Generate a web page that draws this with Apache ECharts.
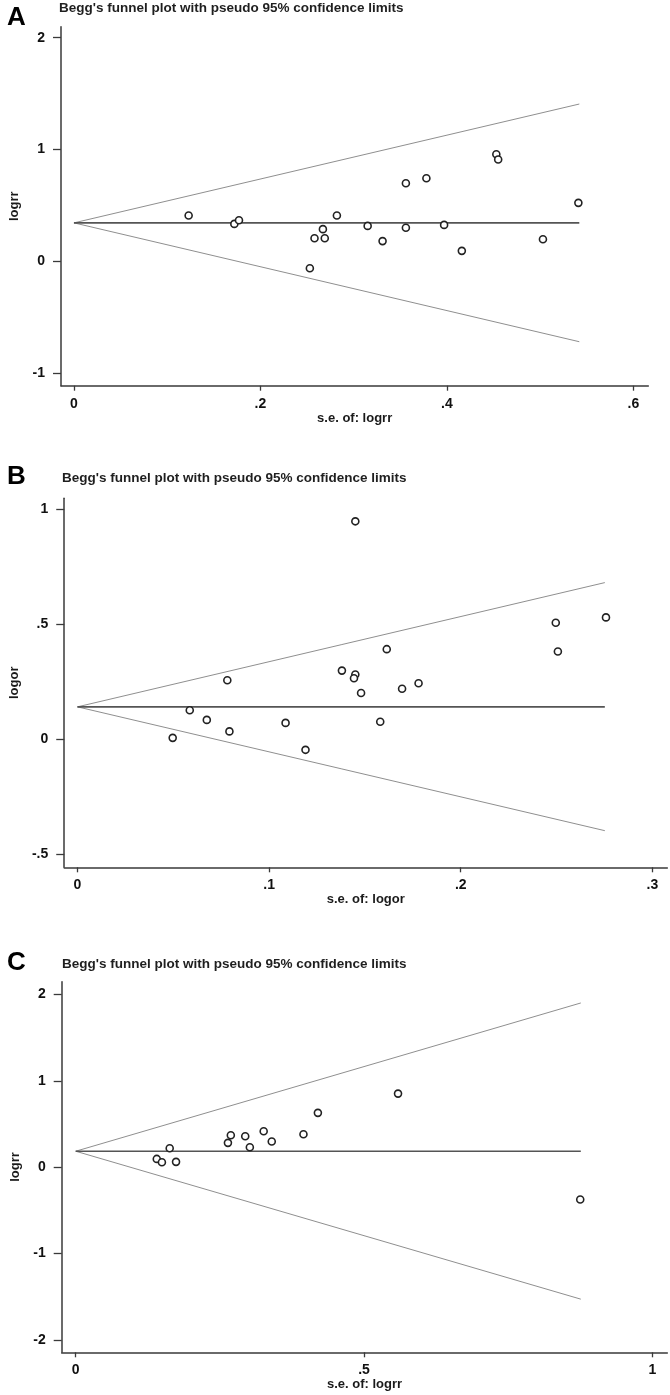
<!DOCTYPE html>
<html>
<head>
<meta charset="utf-8">
<script src="https://cdn.jsdelivr.net/npm/echarts@6/dist/echarts.min.js"></script>
<style>
html,body{margin:0;padding:0;background:#fff;}
#chart{width:670px;height:1395px;}
</style>
</head>
<body>
<div id="chart"></div>
<script>
// ---- Data ----
const panelLetters = ['A', 'B', 'C'];
const panelTitle = "Begg's funnel plot with pseudo 95% confidence limits";
const xNames = ['s.e. of: logrr', 's.e. of: logor', 's.e. of: logrr'];
const yNames = ['logrr', 'logor', 'logrr'];

// Panel A
const seA = [0.123, 0.172, 0.177, 0.253, 0.258, 0.267, 0.269, 0.282, 0.315, 0.331, 0.356, 0.356, 0.378, 0.397, 0.416, 0.453, 0.455, 0.503, 0.541];
const effA = [0.411, 0.336, 0.369, -0.060, 0.208, 0.289, 0.208, 0.411, 0.318, 0.182, 0.699, 0.301, 0.744, 0.327, 0.095, 0.958, 0.911, 0.199, 0.524];
const pooledA = 0.345;
const seMaxA = 0.542;
const upperEndA = 1.407;
const lowerEndA = -0.717;
const xTicksA = [0, 0.2, 0.4, 0.6];
const yTicksA = [-1, 0, 1, 2];

// Panel B
const seB = [0.0497, 0.0586, 0.0675, 0.0782, 0.0793, 0.1086, 0.119, 0.138, 0.145, 0.145, 0.1443, 0.148, 0.158, 0.1614, 0.1694, 0.178, 0.2496, 0.2507, 0.2758];
const effB = [0.007, 0.127, 0.085, 0.257, 0.035, 0.072, -0.045, 0.299, 0.947, 0.282, 0.266, 0.202, 0.077, 0.392, 0.220, 0.244, 0.507, 0.382, 0.530];
const pooledB = 0.1416;
const seMaxB = 0.2752;
const upperEndB = 0.681;
const lowerEndB = -0.396;
const xTicksB = [0, 0.1, 0.2, 0.3];
const yTicksB = [-0.5, 0, 0.5, 1];

// Panel C
const seC = [0.1406, 0.1495, 0.163, 0.174, 0.264, 0.269, 0.294, 0.302, 0.326, 0.340, 0.395, 0.420, 0.559, 0.875];
const effC = [0.096, 0.058, 0.220, 0.062, 0.282, 0.370, 0.359, 0.231, 0.417, 0.297, 0.382, 0.629, 0.852, -0.374];
const pooledC = 0.185;
const seMaxC = 0.876;
const upperEndC = 1.901;
const lowerEndC = -1.527;
const xTicksC = [0, 0.5, 1];
const yTicksC = [-2, -1, 0, 1, 2];

// ---- Layout ----
const grids = [
  {left: 59.3, top: 26.7, width: 589, height: 359},
  {left: 61.7, top: 498.3, width: 605.6, height: 369},
  {left: 61.7, top: 981.7, width: 605.6, height: 370.6}
];
const xRanges = [[-0.0139, 0.616], [-0.0069, 0.3078], [-0.0243, 1.026]];
const yRanges = [[-1.110, 2.098], [-0.555, 1.047], [-2.142, 2.147]];
const titleY = [8, 478, 964];
const letterY = [17.5, 477, 963];
const titleX = [59, 62, 62];

const panels = [
  {se: seA, eff: effA, pooled: pooledA, seMax: seMaxA, up: upperEndA, lo: lowerEndA, xt: xTicksA, yt: yTicksA},
  {se: seB, eff: effB, pooled: pooledB, seMax: seMaxB, up: upperEndB, lo: lowerEndB, xt: xTicksB, yt: yTicksB},
  {se: seC, eff: effC, pooled: pooledC, seMax: seMaxC, up: upperEndC, lo: lowerEndC, xt: xTicksC, yt: yTicksC}
];

function fmt(v) {
  const s = String(+(+v).toFixed(4));
  return s.replace(/^(-?)0\./, '$1.');
}

const FONT = 'Liberation Sans, Arial, Helvetica, sans-serif';
const axisColor = '#3a3a3a';

const option = {
  animation: false,
  backgroundColor: '#ffffff',
  grid: grids.map(g => Object.assign({containLabel: false}, g)),
  xAxis: panels.map((p, i) => ({
    type: 'value',
    gridIndex: i,
    min: xRanges[i][0],
    max: xRanges[i][1],
    name: xNames[i],
    nameLocation: 'middle',
    nameGap: 24,
    nameTextStyle: {fontFamily: FONT, fontWeight: 'bold', fontSize: 13, color: '#1a1a1a'},
    axisLine: {show: true, onZero: false, lineStyle: {color: axisColor, width: 1.5}},
    axisTick: {show: true, length: 5, customValues: p.xt, lineStyle: {color: axisColor, width: 1.3}},
    axisLabel: {customValues: p.xt, formatter: fmt, margin: 11, fontFamily: FONT, fontWeight: 'bold', fontSize: 14, color: '#111'},
    splitLine: {show: false}
  })),
  yAxis: panels.map((p, i) => ({
    type: 'value',
    gridIndex: i,
    min: yRanges[i][0],
    max: yRanges[i][1],
    name: yNames[i],
    nameLocation: 'middle',
    nameGap: 40,
    nameRotate: 90,
    nameTextStyle: {fontFamily: FONT, fontWeight: 'bold', fontSize: 13, color: '#1a1a1a'},
    axisLine: {show: true, onZero: false, lineStyle: {color: axisColor, width: 1.5}},
    axisTick: {show: true, length: 8, customValues: p.yt, lineStyle: {color: axisColor, width: 1.3}},
    axisLabel: {customValues: p.yt, formatter: fmt, margin: 16, fontFamily: FONT, fontWeight: 'bold', fontSize: 14, color: '#111'},
    splitLine: {show: false}
  })),
  graphic: panels.flatMap((p, i) => [
    {type: 'text', x: 7, y: letterY[i], style: {text: panelLetters[i], font: 'bold 26px ' + FONT, fill: '#000', verticalAlign: 'middle', textVerticalAlign: 'middle'}},
    {type: 'text', x: titleX[i], y: titleY[i], style: {text: panelTitle, font: 'bold 13.5px ' + FONT, fill: '#1f1f1f', verticalAlign: 'middle', textVerticalAlign: 'middle'}}
  ]),
  series: panels.flatMap((p, i) => [
    {
      type: 'line', xAxisIndex: i, yAxisIndex: i, symbol: 'none', silent: true,
      lineStyle: {color: '#8f8f8f', width: 1},
      data: [[0, p.pooled], [p.seMax, p.up]]
    },
    {
      type: 'line', xAxisIndex: i, yAxisIndex: i, symbol: 'none', silent: true,
      lineStyle: {color: '#8f8f8f', width: 1},
      data: [[0, p.pooled], [p.seMax, p.lo]]
    },
    {
      type: 'line', xAxisIndex: i, yAxisIndex: i, symbol: 'none', silent: true,
      lineStyle: {color: '#555', width: 1.6},
      data: [[0, p.pooled], [p.seMax, p.pooled]]
    },
    {
      type: 'scatter', xAxisIndex: i, yAxisIndex: i, symbol: 'circle', symbolSize: 7, z: 5,
      itemStyle: {color: '#ffffff', borderColor: '#222', borderWidth: 1.6, opacity: 1},
      data: p.se.map((s, k) => [s, p.eff[k]])
    }
  ])
};

const chart = echarts.init(document.getElementById('chart'), null, {renderer: 'canvas'});
chart.setOption(option);
</script>
</body>
</html>
